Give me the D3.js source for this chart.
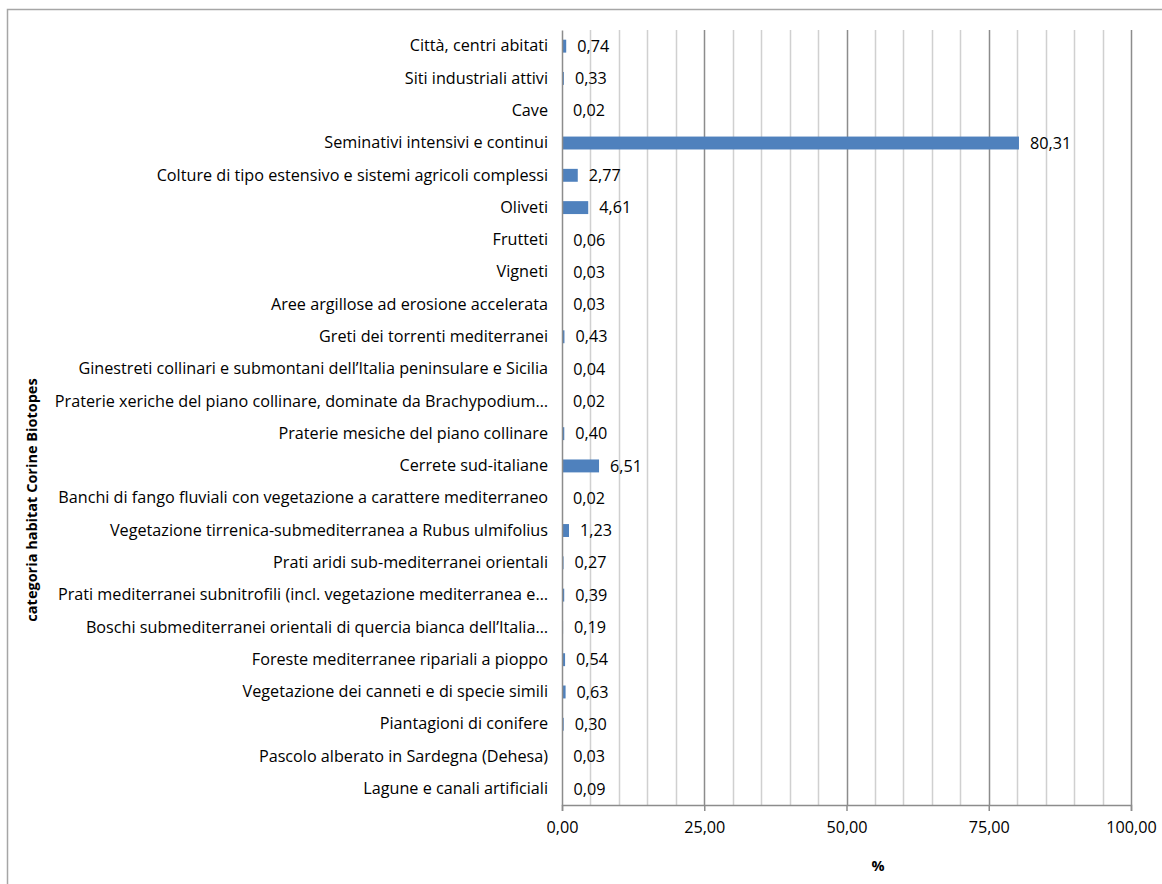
<!DOCTYPE html>
<html>
<head>
<meta charset="utf-8">
<script src="https://cdn.jsdelivr.net/npm/d3@7"></script>
<style>
  body { margin: 0; background: #fff; }
  text { font-family: "Open Sans", sans-serif; }
</style>
</head>
<body>
<div class="canvas"></div>
<script>
// categories and values (%), top to bottom as in the chart
const categories = [
  'Città, centri abitati',
  'Siti industriali attivi',
  'Cave',
  'Seminativi intensivi e continui',
  'Colture di tipo estensivo e sistemi agricoli complessi',
  'Oliveti',
  'Frutteti',
  'Vigneti',
  'Aree argillose ad erosione accelerata',
  'Greti dei torrenti mediterranei',
  'Ginestreti collinari e submontani dell’Italia peninsulare e Sicilia',
  'Praterie xeriche del piano collinare, dominate da Brachypodium…',
  'Praterie mesiche del piano collinare',
  'Cerrete sud-italiane',
  'Banchi di fango fluviali con vegetazione a carattere mediterraneo',
  'Vegetazione tirrenica-submediterranea a Rubus ulmifolius',
  'Prati aridi sub-mediterranei orientali',
  'Prati mediterranei subnitrofili (incl. vegetazione mediterranea e…',
  'Boschi submediterranei orientali di quercia bianca dell’Italia…',
  'Foreste mediterranee ripariali a pioppo',
  'Vegetazione dei canneti e di specie simili',
  'Piantagioni di conifere',
  'Pascolo alberato in Sardegna (Dehesa)',
  'Lagune e canali artificiali'
];
const values = [0.74, 0.33, 0.02, 80.31, 2.77, 4.61, 0.06, 0.03, 0.03, 0.43,
  0.04, 0.02, 0.40, 6.51, 0.02, 1.23, 0.27, 0.39, 0.19, 0.54, 0.63, 0.30, 0.03, 0.09];
const xTicks = [0, 25, 50, 75, 100];
const xMinor = d3.range(5, 100, 5);

const data = categories.map((name, i) => ({ name, value: values[i] }));

const width = 1162, height = 884;
const margin = { top: 30, right: 31, bottom: 79, left: 562 };
const graphWidth = width - margin.left - margin.right;
const graphHeight = height - margin.top - margin.bottom;
const fontSize = 16.2;
const font = '"Open Sans", sans-serif';

const svg = d3.select('.canvas')
  .append('svg')
  .attr('width', width)
  .attr('height', height);

// chart area frame
svg.append('rect')
  .attr('x', 7.5).attr('y', 9.5)
  .attr('width', width).attr('height', height)
  .attr('fill', 'none')
  .attr('stroke', '#a6a6a6')
  .attr('stroke-width', 1.5);

const graph = svg.append('g')
  .attr('transform', `translate(${margin.left}, ${margin.top})`);

const x = d3.scaleLinear().domain([0, 100]).range([0, graphWidth]);
const y = d3.scaleBand()
  .domain(categories)
  .range([0, graphHeight])
  .paddingInner(0.6)
  .paddingOuter(0.3);

const fmt = v => v.toFixed(2).replace('.', ',');

// gridlines
graph.selectAll('line.minor')
  .data(xMinor.filter(d => d % 25 !== 0))
  .enter().append('line')
  .attr('class', 'minor')
  .attr('x1', d => Math.round(x(d)) + 0.5).attr('x2', d => Math.round(x(d)) + 0.5)
  .attr('y1', 0).attr('y2', graphHeight)
  .attr('stroke', '#d0d0d0').attr('stroke-width', 1.5);

graph.selectAll('line.major')
  .data(xTicks.slice(1))
  .enter().append('line')
  .attr('class', 'major')
  .attr('x1', d => Math.round(x(d)) + 0.5).attr('x2', d => Math.round(x(d)) + 0.5)
  .attr('y1', 0).attr('y2', graphHeight)
  .attr('stroke', '#8c8c8c').attr('stroke-width', 1.5);

// bars
graph.selectAll('rect.bar')
  .data(data)
  .enter().append('rect')
  .attr('class', 'bar')
  .attr('x', 0)
  .attr('y', d => y(d.name))
  .attr('width', d => x(d.value))
  .attr('height', y.bandwidth())
  .attr('fill', '#4f81bd');

// value labels
graph.selectAll('text.val')
  .data(data)
  .enter().append('text')
  .attr('class', 'val')
  .attr('x', d => x(d.value) + 11)
  .attr('y', d => y(d.name) + y.bandwidth() / 2)
  .attr('dy', '0.35em')
  .attr('font-size', fontSize)
  .attr('fill', '#000')
  .text(d => fmt(d.value));

// axes
const yAxis = d3.axisLeft(y).tickSize(0).tickPadding(14);
const yAxisGroup = graph.append('g').call(yAxis);
yAxisGroup.select('.domain').attr('stroke', '#8c8c8c').attr('stroke-width', 1.5);
yAxisGroup.selectAll('text').attr('font-size', fontSize).attr('fill', '#000')
  .style('font-family', font);

const xAxis = d3.axisBottom(x).tickValues(xTicks).tickSizeOuter(0).tickSize(6)
  .tickPadding(10).tickFormat(fmt);
const xAxisGroup = graph.append('g')
  .attr('transform', `translate(0, ${graphHeight})`)
  .call(xAxis);
xAxisGroup.select('.domain').attr('stroke', '#8c8c8c').attr('stroke-width', 1.5);
xAxisGroup.selectAll('line').attr('stroke', '#8c8c8c').attr('stroke-width', 1.5);
xAxisGroup.selectAll('text').attr('font-size', fontSize).attr('fill', '#000')
  .style('font-family', font);

// axis titles
svg.append('text')
  .attr('x', 878).attr('y', 871)
  .attr('text-anchor', 'middle')
  .attr('font-size', 14.5).attr('font-weight', 'bold')
  .text('%');

svg.append('text')
  .attr('transform', 'translate(37, 500) rotate(-90)')
  .attr('text-anchor', 'middle')
  .attr('font-size', 14.5).attr('font-weight', 'bold')
  .text('categoria habitat Corine Biotopes');
</script>
</body>
</html>
